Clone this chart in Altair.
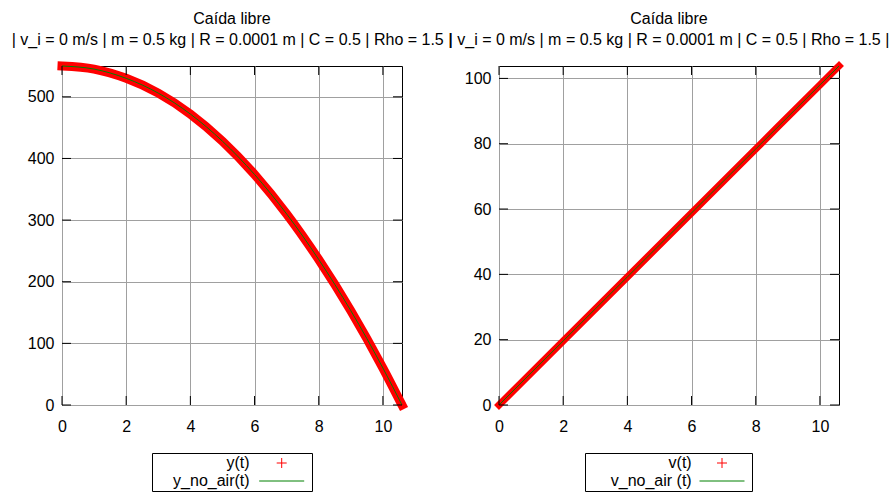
import altair as alt
import pandas as pd

# ---------------- data ----------------
T_END = 10.595

# left panel: height y (m) versus time t (s)
t_y = [0, 1, 2, 3, 4, 5, 6, 7, 8, 9, 10, 10.595]
y_air = [550, 545, 530, 506, 472, 428, 374, 310, 236, 153, 60, 0]
y_no_air = [550, 545, 530, 506, 472, 428, 374, 310, 236, 153, 60, 0]
Y_MAX = 550

# right panel: speed v (m/s) versus time t (s)
t_v = [0, 2, 4, 6, 8, 10, 10.595]
v_air = [0, 19.6, 39.2, 58.8, 78.4, 98.0, 103.8]
v_no_air = [0, 19.6, 39.2, 58.8, 78.4, 98.0, 103.8]
V_MAX = 103.8

x_ticks = [0, 2, 4, 6, 8, 10]
y_ticks = [0, 100, 200, 300, 400, 500]
v_ticks = [0, 20, 40, 60, 80, 100]

y_names = ["y(t)", "y_no_air(t)"]
v_names = ["v(t)", "v_no_air (t)"]

title_text = "Caída libre"
subtitle_text = "| v_i = 0 m/s | m = 0.5 kg | R = 0.0001 m | C = 0.5 | Rho = 1.5 |"

# ---------------- styling ----------------
W, H = 340, 339
FONT = "Liberation Sans"
RED = "#ff0000"
GREEN = "#008000"
GRID = "#a0a0a0"
PLUS = "M-1,0H1M0,-1V1"
DASH = "M-4.5,0H4.5M5.2,0"
TICK = 9


def panel(t, s_air, s_no, names, ymax, yticks, band_w, leg_x, sym_off, lab_off):
    n = len(t)
    df = pd.DataFrame({
        "t": list(t) * 2,
        "val": list(s_air) + list(s_no),
        "serie": [names[0]] * n + [names[1]] * n,
    })
    xs = alt.Scale(domain=[0, T_END], nice=False, zero=False)
    ys = alt.Scale(domain=[0, ymax], nice=False, zero=False)
    common = dict(grid=True, gridColor=GRID, gridWidth=1, domain=False, ticks=False,
                  labelFont=FONT, labelFontSize=16, labelColor="black", title=None,
                  format="d", labelFlush=False)
    xax = alt.Axis(values=x_ticks, labelPadding=13, **common)
    yax = alt.Axis(values=yticks, labelPadding=8, **common)
    X = alt.X("t:Q", scale=xs, axis=xax)
    Y = alt.Y("val:Q", scale=ys, axis=yax)

    base = alt.Chart(df)
    band = base.transform_filter(alt.datum.serie == names[0]).mark_line(
        color=RED, strokeWidth=band_w, strokeCap="square", interpolate="monotone", clip=False
    ).encode(x=X, y=Y)
    line = base.transform_filter(alt.datum.serie == names[1]).mark_line(
        color=GREEN, strokeWidth=1, interpolate="monotone"
    ).encode(x="t:Q", y="val:Q")

    leg = alt.Legend(
        title=None, orient="none", legendX=leg_x, legendY=387, direction="vertical",
        labelFont=FONT, labelFontSize=16, labelColor="black", labelAlign="right",
        labelOffset={"expr": str(lab_off)}, symbolOffset=sym_off, symbolSize=100,
        symbolStrokeWidth=1, symbolOpacity=1, strokeColor="black", fillColor="white",
        padding=2, rowPadding=2, labelLimit=300, cornerRadius=0,
    )
    keys = base.mark_point(opacity=0, filled=False, strokeWidth=1).encode(
        x="t:Q", y="val:Q",
        color=alt.Color("serie:N", scale=alt.Scale(domain=names, range=[RED, GREEN]), legend=leg),
        shape=alt.Shape("serie:N", scale=alt.Scale(domain=names, range=[PLUS, DASH]), legend=leg),
    )

    xt = alt.Chart(pd.DataFrame({"t": x_ticks}))
    yt = alt.Chart(pd.DataFrame({"val": yticks}))
    tb = xt.mark_rule(color="black").encode(x="t:Q", y=alt.value(H), y2=alt.value(H - TICK))
    tt = xt.mark_rule(color="black").encode(x="t:Q", y=alt.value(0), y2=alt.value(TICK))
    tl = yt.mark_rule(color="black").encode(y="val:Q", x=alt.value(0), x2=alt.value(TICK))
    tr = yt.mark_rule(color="black").encode(y="val:Q", x=alt.value(W), x2=alt.value(W - TICK))

    # panel title and subtitle as text, centred over the plot area
    tdf = alt.Chart(pd.DataFrame({"title": [title_text], "subtitle": [subtitle_text]}))
    ttl = tdf.mark_text(font=FONT, fontSize=16, color="black", align="center",
                        baseline="alphabetic").encode(
        x=alt.value(W / 2), y=alt.value(-42), text="title:N")
    sub = tdf.mark_text(font=FONT, fontSize=16, color="black", align="center",
                        baseline="alphabetic").encode(
        x=alt.value(W / 2), y=alt.value(-21), text="subtitle:N")

    return alt.layer(band, line, keys, tb, tt, tl, tr, ttl, sub).properties(width=W, height=H)


left = panel(t_y, y_air, y_no_air, y_names, Y_MAX, y_ticks, 9, 90, 119.7, -40.1)
right = panel(t_v, v_air, v_no_air, v_names, V_MAX, v_ticks, 7, 86, 127, -38.3)

chart = alt.hconcat(left, right, spacing=97, bounds="flush").resolve_scale(
    color="independent", shape="independent"
).resolve_legend(color="independent", shape="independent").configure_view(
    stroke="black", strokeWidth=1
).properties(
    padding={"left": 11, "top": 10, "right": 0, "bottom": 0},
    background="white",
)

chart.save("out.html", embed_options={"renderer": "svg", "actions": False})
